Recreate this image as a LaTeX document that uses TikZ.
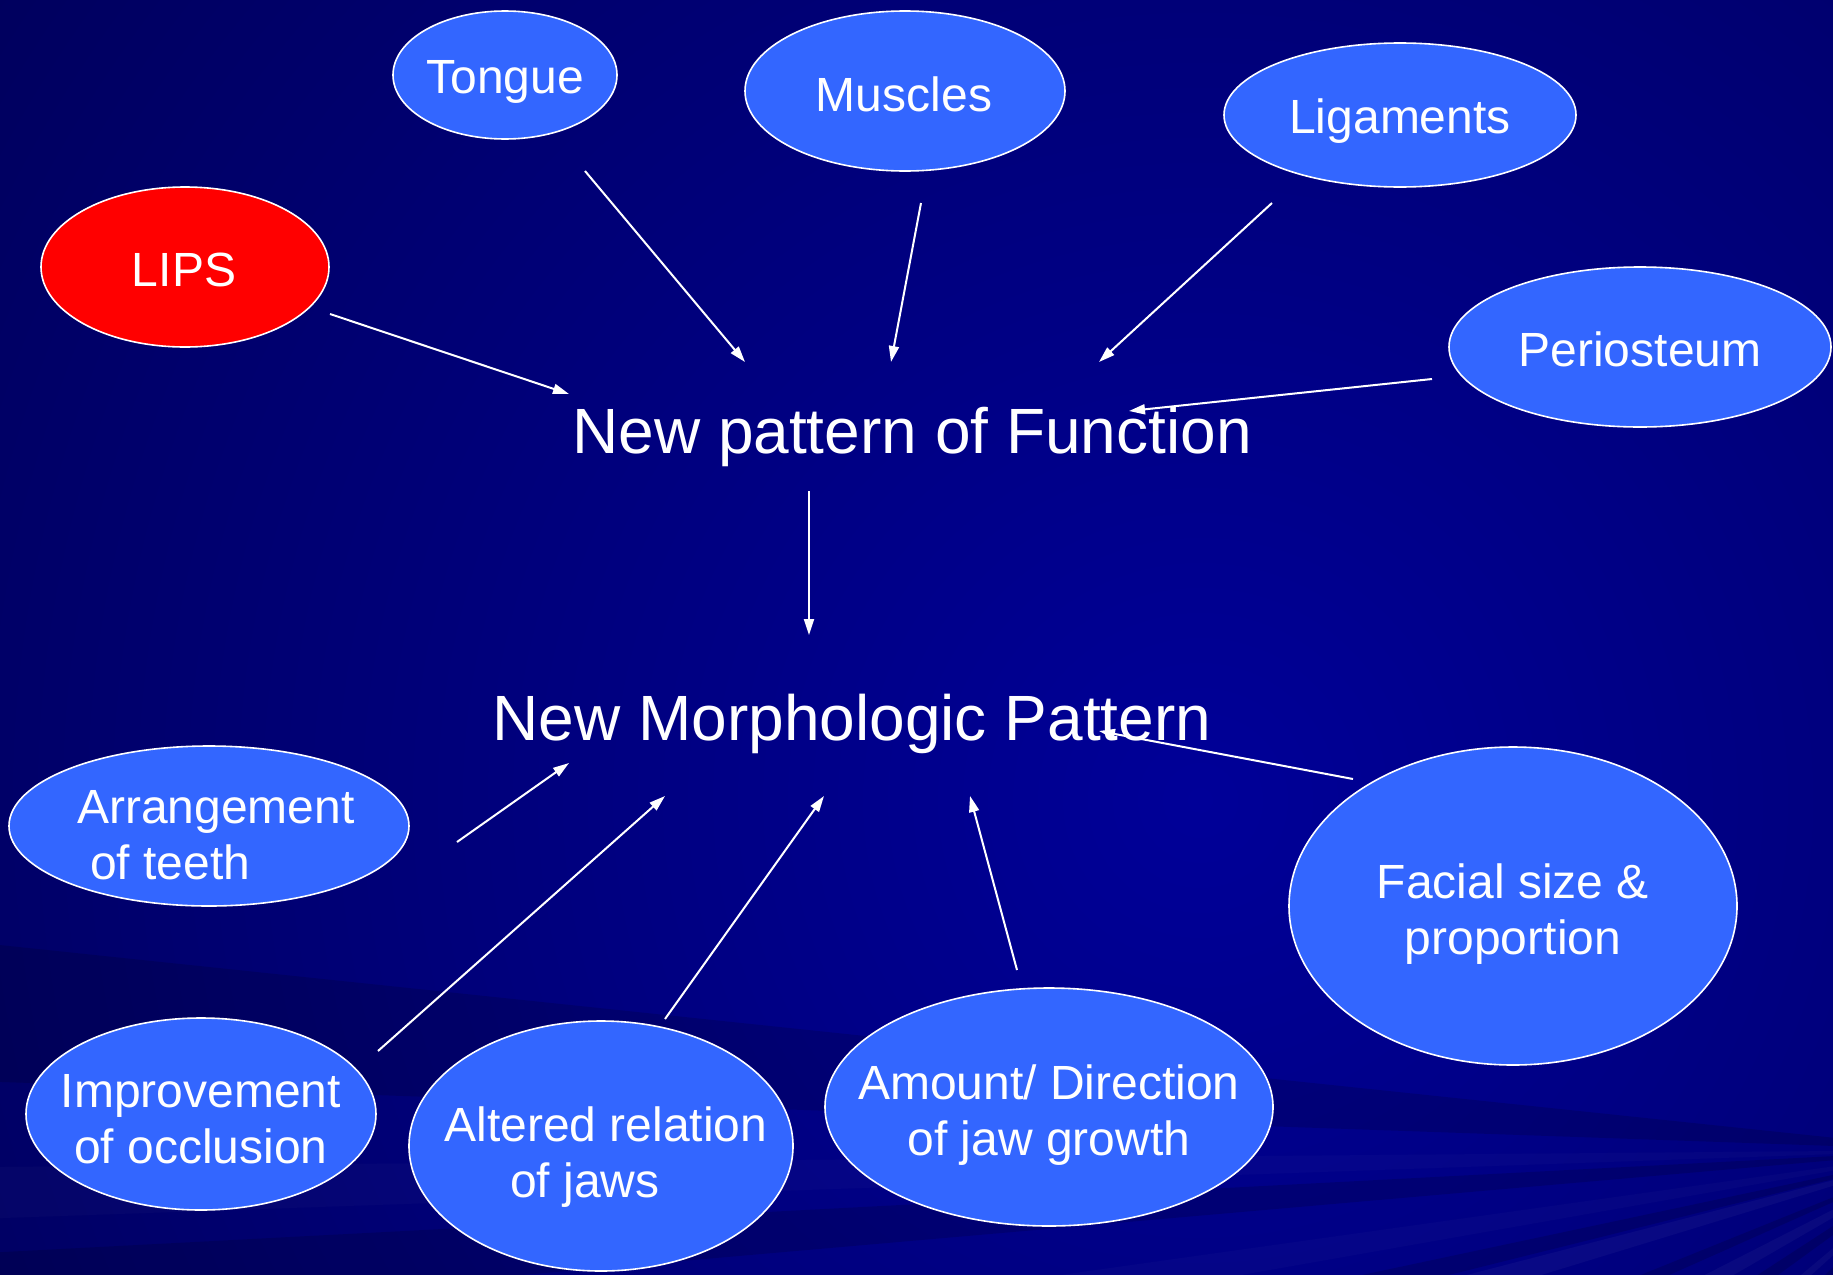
\documentclass[tikz,border=0pt]{standalone}
\usepackage{fontspec}
\setmainfont{Liberation Sans}
\usetikzlibrary{shapes.geometric,arrows.meta,calc}
\definecolor{bub}{RGB}{51,102,255}
\definecolor{lipred}{RGB}{255,0,0}
\definecolor{bgin}{RGB}{0,0,152}
\definecolor{bgout}{RGB}{0,0,60}
\begin{document}
\begin{tikzpicture}[x=1pt,y=-1pt,
  bubble/.style={ellipse, draw=white, line width=1.6pt, fill=bub, inner sep=0pt},
  lbl/.style={text=white, font=\fontsize{48}{56}\selectfont, inner sep=0pt, align=center, anchor=base},
  title/.style={text=white, font=\fontsize{64}{76}\selectfont, inner sep=0pt, anchor=base},
  arr/.style={draw=white, line width=2pt, -{Triangle[length=16pt,width=10pt]}},
  lightray/.style={fill=white, opacity=0.035},
  faintray/.style={fill=white, opacity=0.018},
  darkray/.style={fill=black, opacity=0.14}]
% background
\useasboundingbox (0,0) rectangle (1833,1274);
\begin{scope}
\clip (0,0) rectangle (1833,1274);
\fill[inner color=bgin, outer color=bgout] (1200,800) circle (2300);
\coordinate (F) at (1950,1150);
\foreach \a/\b in {105/108,112/114,125/129,138/140,150/153,163/165.5}
  \fill[lightray] (F) -- ($(F)+(\a:3200)$) -- ($(F)+(\b:3200)$) -- cycle;
\foreach \a/\b in {170/172,178/179.5}
  \fill[faintray] (F) -- ($(F)+(\a:3200)$) -- ($(F)+(\b:3200)$) -- cycle;
\foreach \a/\b in {100/103,118/122,132/135,144/147,156/158,166/168,175/177,182/186}
  \fill[darkray] (F) -- ($(F)+(\a:3200)$) -- ($(F)+(\b:3200)$) -- cycle;
\end{scope}
% bubbles
\node[bubble, minimum width=224pt, minimum height=128pt] (tongue) at (505,75) {};
\node[bubble, minimum width=320pt, minimum height=160pt] (muscles) at (905,91) {};
\node[bubble, minimum width=352pt, minimum height=144pt] (lig) at (1400,115) {};
\node[bubble, fill=lipred, minimum width=288pt, minimum height=160pt] (lips) at (185,267) {};
\node[bubble, minimum width=382pt, minimum height=160pt] (peri) at (1640,347) {};
\node[bubble, minimum width=400pt, minimum height=160pt] (arrg) at (209,826) {};
\node[bubble, minimum width=350pt, minimum height=192pt] (impr) at (201,1114) {};
\node[bubble, minimum width=384pt, minimum height=250pt] (alt) at (601,1146) {};
\node[bubble, minimum width=448pt, minimum height=238pt] (amt) at (1049,1107) {};
\node[bubble, minimum width=448pt, minimum height=318pt] (fac) at (1513,906) {};
% labels (multi-line nodes: base = last line's baseline)
\node[lbl] (tongueT) at (505,93.5) {Tongue};
\node[lbl] (musclesT) at (904,111) {Muscles};
\node[lbl] (ligT) at (1400,133) {Ligaments};
\node[lbl] (lipsT) at (184,286) {LIPS};
\node[lbl] (periT) at (1640,366) {Periosteum};
\node[lbl, align=left, anchor=base west] (arrgT) at (77,879) {Arrangement\\\hspace*{13pt}of teeth};
\node[lbl] (imprT) at (201,1163) {Improvement\\of occlusion};
\node[lbl] (altT) at (606,1197) {Altered relation\\of jaws\hspace*{42pt}};
\node[lbl] (amtT) at (1049,1155) {Amount/ Direction\\of jaw growth};
\node[lbl] (facT) at (1513,954) {Facial size \&\\proportion};
\node[title] (func) at (912,453) {New pattern of Function};
\node[title] (morph) at (852,740) {New Morphologic Pattern};
% connector ends
\coordinate (lipsS) at ($(lips)+(145,47)$);
\coordinate (lipsE) at (569,394);
\coordinate (tongueS) at ($(tongue)+(80,96)$);
\coordinate (tongueE) at (745,362);
\coordinate (musS) at ($(muscles)+(16,112)$);
\coordinate (musE) at (891,362);
\coordinate (ligS) at ($(lig)+(-128,88)$);
\coordinate (ligE) at (1099,362);
\coordinate (periS) at ($(peri)+(-208,32)$);
\coordinate (periE) at (1129,411);
\coordinate (funcS) at ($(func.south)+(-103,25)$);
\coordinate (morphE) at (809,635);
\coordinate (arrgS) at ($(arrg)+(248,16)$);
\coordinate (arrgE) at (569,763);
\coordinate (imprS) at ($(impr)+(177,-63)$);
\coordinate (imprE) at (665,796);
\coordinate (altS) at ($(alt)+(64,-127)$);
\coordinate (altE) at (824,796);
\coordinate (amtS) at ($(amt)+(-32,-137)$);
\coordinate (amtE) at (970,796);
\coordinate (facS) at ($(fac)+(-160,-127)$);
\coordinate (facE) at (1099,731);
% connectors
\draw[arr] (lipsS) -- (lipsE);
\draw[arr] (tongueS) -- (tongueE);
\draw[arr] (musS) -- (musE);
\draw[arr] (ligS) -- (ligE);
\draw[arr] (periS) -- (periE);
\draw[arr] (funcS) -- (morphE);
\draw[arr] (arrgS) -- (arrgE);
\draw[arr] (imprS) -- (imprE);
\draw[arr] (altS) -- (altE);
\draw[arr] (amtS) -- (amtE);
\draw[arr] (facS) -- (facE);
\end{tikzpicture}
\end{document}
